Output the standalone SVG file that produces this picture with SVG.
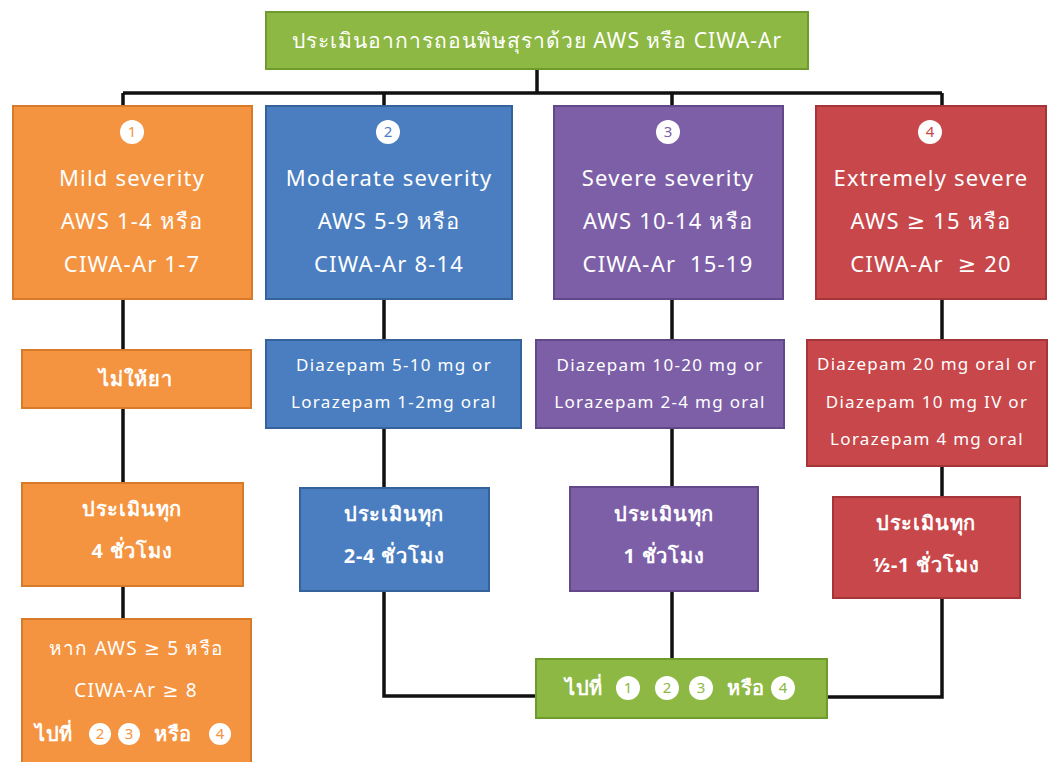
<svg xmlns="http://www.w3.org/2000/svg" width="1059" height="762" viewBox="0 0 1059 762">
<style>
.t{font-family:"Noto Sans","DejaVu Sans",sans-serif;fill:#fff;text-anchor:middle}
.h{font-size:22px;letter-spacing:1.2px}
.d{font-size:17px;letter-spacing:1.3px}
.b{font-size:20px;font-weight:bold;letter-spacing:0.8px}
.m{font-size:19px;letter-spacing:1.2px}
.g{fill:#8db843;stroke:#6f9a2e;stroke-width:2}
.o{fill:#f59440;stroke:#d77a2a;stroke-width:2}
.bl{fill:#4a7ec0;stroke:#36629c;stroke-width:2}
.p{fill:#7d5fa8;stroke:#634889;stroke-width:2}
.r{fill:#c8474a;stroke:#a53538;stroke-width:2}
.c{fill:#fff}
.n{font-family:"Noto Sans","DejaVu Sans",sans-serif;font-size:15px;text-anchor:middle}
.w{fill:none;stroke:#111;stroke-width:3.5}
</style>
<g id="connectors">
<path class="w" d="M537 70V93M123 93H942M123 93V620M384 93V696H536M672 93V660M942 93V697H827"/>
</g>
<g id="title">
<rect class="g" x="266" y="12" width="542" height="57"/>
<text class="t" x="537" y="48" style="font-size:21px;letter-spacing:1px">ประเมินอาการถอนพิษสุราด้วย AWS หรือ CIWA-Ar</text>
</g>
<g id="mild">
<rect class="o" x="13" y="106" width="239" height="193"/>
<circle class="c" cx="132" cy="132" r="12"/><text class="n" x="132" y="137" fill="#f59440">1</text>
<text class="t h" x="132" y="186">Mild severity</text>
<text class="t h" x="132" y="229">AWS 1-4 หรือ</text>
<text class="t h" x="132" y="272">CIWA-Ar 1-7</text>
</g>
<g id="moderate">
<rect class="bl" x="266" y="106" width="246" height="193"/>
<circle class="c" cx="388" cy="132" r="12"/><text class="n" x="388" y="137" fill="#4a7ec0">2</text>
<text class="t h" x="389" y="186">Moderate severity</text>
<text class="t h" x="389" y="229">AWS 5-9 หรือ</text>
<text class="t h" x="389" y="272">CIWA-Ar 8-14</text>
</g>
<g id="severe">
<rect class="p" x="554" y="106" width="229" height="193"/>
<circle class="c" cx="668" cy="132" r="12"/><text class="n" x="668" y="137" fill="#7d5fa8">3</text>
<text class="t h" x="668" y="186">Severe severity</text>
<text class="t h" x="668" y="229">AWS 10-14 หรือ</text>
<text class="t h" x="668" y="272" xml:space="preserve">CIWA-Ar  15-19</text>
</g>
<g id="extreme">
<rect class="r" x="816" y="106" width="230" height="193"/>
<circle class="c" cx="930" cy="132" r="12"/><text class="n" x="930" y="137" fill="#c8474a">4</text>
<text class="t h" x="931" y="186">Extremely severe</text>
<text class="t h" x="931" y="229">AWS ≥ 15 หรือ</text>
<text class="t h" x="931" y="272" xml:space="preserve">CIWA-Ar  ≥ 20</text>
</g>
<g id="nodrug">
<rect class="o" x="22" y="350" width="229" height="58"/>
<text class="t b" x="136" y="386">ไม่ให้ยา</text>
</g>
<g id="drug2">
<rect class="bl" x="266" y="340" width="255" height="88"/>
<text class="t d" x="394" y="371">Diazepam 5-10 mg or</text>
<text class="t d" x="394" y="408">Lorazepam 1-2mg oral</text>
</g>
<g id="drug3">
<rect class="p" x="536" y="340" width="248" height="88"/>
<text class="t d" x="660" y="371">Diazepam 10-20 mg or</text>
<text class="t d" x="660" y="408">Lorazepam 2-4 mg oral</text>
</g>
<g id="drug4">
<rect class="r" x="807" y="340" width="240" height="126"/>
<text class="t d" x="927" y="370">Diazepam 20 mg oral or</text>
<text class="t d" x="927" y="408">Diazepam 10 mg IV or</text>
<text class="t d" x="927" y="445">Lorazepam 4 mg oral</text>
</g>
<g id="eval1">
<rect class="o" x="22" y="483" width="221" height="103"/>
<text class="t b" x="132" y="516">ประเมินทุก</text>
<text class="t b" x="132" y="558">4 ชั่วโมง</text>
</g>
<g id="eval2">
<rect class="bl" x="300" y="488" width="189" height="103"/>
<text class="t b" x="394" y="521">ประเมินทุก</text>
<text class="t b" x="394" y="563">2-4 ชั่วโมง</text>
</g>
<g id="eval3">
<rect class="p" x="570" y="487" width="188" height="104"/>
<text class="t b" x="664" y="521">ประเมินทุก</text>
<text class="t b" x="664" y="563">1 ชั่วโมง</text>
</g>
<g id="eval4">
<rect class="r" x="833" y="497" width="187" height="101"/>
<text class="t b" x="926" y="530">ประเมินทุก</text>
<text class="t b" x="926" y="572">½-1 ชั่วโมง</text>
</g>
<g id="escalate">
<rect class="o" x="22" y="619" width="229" height="150"/>
<text class="t m" x="136" y="655">หาก AWS ≥ 5 หรือ</text>
<text class="t m" x="136" y="697">CIWA-Ar ≥ 8</text>
<text class="t b" x="54" y="741">ไปที่</text>
<circle class="c" cx="100" cy="734" r="11"/><text class="n" x="100" y="739" fill="#f59440">2</text>
<circle class="c" cx="129" cy="734" r="11"/><text class="n" x="129" y="739" fill="#f59440">3</text>
<text class="t b" x="173" y="741">หรือ</text>
<circle class="c" cx="220" cy="734" r="11"/><text class="n" x="220" y="739" fill="#f59440">4</text>
</g>
<g id="goto">
<rect class="g" x="536" y="659" width="291" height="59"/>
<text class="t b" x="584" y="695">ไปที่</text>
<circle class="c" cx="628" cy="688" r="12"/><text class="n" x="628" y="693" fill="#8db843">1</text>
<circle class="c" cx="667" cy="688" r="12"/><text class="n" x="667" y="693" fill="#8db843">2</text>
<circle class="c" cx="701" cy="688" r="12"/><text class="n" x="701" y="693" fill="#8db843">3</text>
<text class="t b" x="746" y="695">หรือ</text>
<circle class="c" cx="783" cy="688" r="12"/><text class="n" x="783" y="693" fill="#8db843">4</text>
</g>
</svg>
